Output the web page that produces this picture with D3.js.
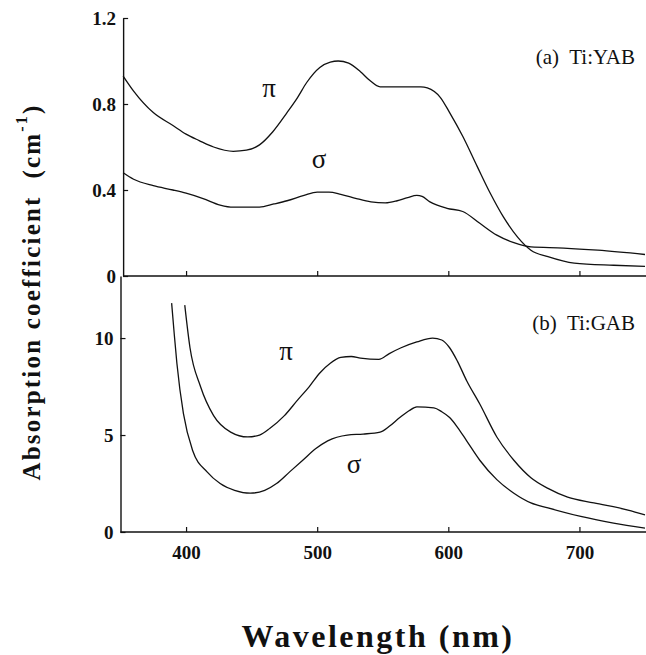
<!DOCTYPE html>
<html>
<head>
<meta charset="utf-8">
<script src="https://d3js.org/d3.v7.min.js"></script>
<style>
  body { margin: 0; background: #fff; }
</style>
</head>
<body>
<div id="chart"></div>
<script>
// (a) Ti:YAB, absorption in cm^-1
const yabPiNm  = [352,360,375,390,400,410,421,436,446,456,466,477,485,492,502,510,516,524,533,540,548,561,579,584,594,601,611,622,632,642,653,663,676,696,726,750];
const yabPiVal = [0.93,0.86,0.76,0.70,0.66,0.63,0.60,0.58,0.585,0.61,0.67,0.76,0.83,0.90,0.97,0.995,1.0,0.99,0.95,0.91,0.88,0.88,0.88,0.875,0.83,0.76,0.65,0.51,0.385,0.275,0.18,0.12,0.09,0.06,0.05,0.045];
const yabSigNm  = [352,360,375,390,400,413,426,436,456,467,477,490,500,509,518,530,541,552,561,569,576,580,586,599,611,624,637,650,663,688,714,750];
const yabSigVal = [0.48,0.45,0.42,0.40,0.385,0.36,0.33,0.32,0.32,0.335,0.35,0.375,0.39,0.39,0.38,0.36,0.345,0.34,0.35,0.365,0.375,0.37,0.345,0.315,0.30,0.245,0.19,0.155,0.135,0.13,0.12,0.10];

// (b) Ti:GAB
const gabPiNm  = [399,403,411,421,434,447,456,464,475,485,494,502,510,518,526,533,547,555,564,576,588,595,601,607,614,624,637,650,663,676,691,711,737,750];
const gabPiVal = [11.7,9.5,7.5,6.0,5.15,4.9,5.0,5.35,6.0,6.8,7.5,8.2,8.7,9.0,9.05,8.97,8.9,9.2,9.5,9.8,10.0,9.9,9.5,8.8,7.8,6.6,4.9,3.7,2.8,2.25,1.8,1.5,1.13,0.88];
const gabSigNm  = [389,391,393,398,405,416,426,437,449,460,469,479,489,499,508,523,535,548,555,563,570,576,589,595,601,607,614,624,637,650,663,676,701,726,750];
const gabSigVal = [11.8,10.2,8.7,6.1,4.2,3.1,2.5,2.15,2.0,2.15,2.5,3.1,3.7,4.3,4.7,5.0,5.05,5.15,5.45,5.9,6.25,6.45,6.4,6.2,5.9,5.4,4.7,3.7,2.7,2.0,1.5,1.24,0.8,0.46,0.2];

const xTicks = [400, 500, 600, 700];
const yTicksA = [0, 0.4, 0.8, 1.2];
const yTicksB = [0, 5, 10];

const width = 646, height = 655;
const FONT = "Liberation Serif";
const ink = "#111";

const svg = d3.select("#chart").append("svg")
  .attr("width", width).attr("height", height)
  .attr("font-family", FONT);

const x = d3.scaleLinear().domain([350, 750]).range([120.5, 645]);
const yA = d3.scaleLinear().domain([0, 1.2]).range([276, 18]);
const yB = d3.scaleLinear().domain([0, 13.2]).range([532, 276]);

function styleTicks(s) {
  s.attr("font-family", FONT);
  s.select(".domain").attr("stroke", ink).attr("stroke-width", 1.4);
  s.selectAll(".tick line").attr("stroke", ink).attr("stroke-width", 1.2);
  s.selectAll(".tick text").attr("font-size", 19).attr("font-weight", "bold")
    .attr("fill", ink).attr("font-family", FONT);
}

function drawAxes(y, ticks, xLeft, showLabels, fmt) {
  const g = svg.append("g");
  const ya = d3.axisLeft(y).tickValues(ticks).tickSizeInner(-5).tickSizeOuter(0)
    .tickPadding(7).tickFormat(fmt);
  g.append("g").attr("transform", `translate(${x(xLeft)},0)`).call(ya).call(styleTicks);

  const xa = d3.axisBottom(x).tickValues(xTicks).tickSizeInner(-5).tickSizeOuter(0)
    .tickPadding(14).tickFormat(showLabels ? d3.format("d") : "");
  const xg = g.append("g").attr("transform", `translate(0,${y(0)})`).call(xa).call(styleTicks);
  xg.select(".domain").attr("d", `M${x(xLeft)},0H${width}`);
}

drawAxes(yA, yTicksA, 352, false, d => d === 0 ? "0" : d3.format(".1f")(d));
drawAxes(yB, yTicksB, 350, true, d3.format("d"));

function curve(nm, vals, y) {
  const line = d3.line().x(d => x(d[0])).y(d => y(d[1])).curve(d3.curveMonotoneX);
  svg.append("path")
    .datum(d3.zip(nm, vals))
    .attr("d", line)
    .attr("fill", "none")
    .attr("stroke", ink)
    .attr("stroke-width", 1.3);
}

curve(yabPiNm, yabPiVal, yA);
curve(yabSigNm, yabSigVal, yA);
curve(gabPiNm, gabPiVal, yB);
curve(gabSigNm, gabSigVal, yB);

// labels
const lab = (tx, ty, s, size, anchor) => svg.append("text")
  .attr("x", tx).attr("y", ty).attr("font-size", size)
  .attr("font-family", FONT)
  .attr("text-anchor", anchor || "middle").attr("fill", ink)
  .style("white-space", "pre").text(s);

lab(269, 97, "π", 27);
lab(319, 168, "σ", 27);
lab(286, 360, "π", 27);
lab(354, 473, "σ", 27);

lab(635, 64, "(a)  Ti:YAB", 21, "end");
lab(635, 330, "(b)  Ti:GAB", 21, "end");

// x title
svg.append("text")
  .attr("x", 378).attr("y", 647)
  .attr("text-anchor", "middle")
  .attr("font-family", FONT)
  .attr("font-size", 32).attr("font-weight", "bold")
  .attr("letter-spacing", 2.5).attr("fill", ink)
  .text("Wavelength (nm)");

// y title
const yt = svg.append("text")
  .attr("transform", "translate(40,292) rotate(-90)")
  .attr("text-anchor", "middle")
  .attr("font-family", FONT)
  .attr("font-size", 25).attr("font-weight", "bold")
  .attr("letter-spacing", 2.2).attr("fill", ink)
  .style("white-space", "pre");
yt.append("tspan").text("Absorption coefficient  (cm");
yt.append("tspan").attr("font-size", 16).attr("dy", -13).text("-1");
yt.append("tspan").attr("dy", 13).text(")");
</script>
</body>
</html>
